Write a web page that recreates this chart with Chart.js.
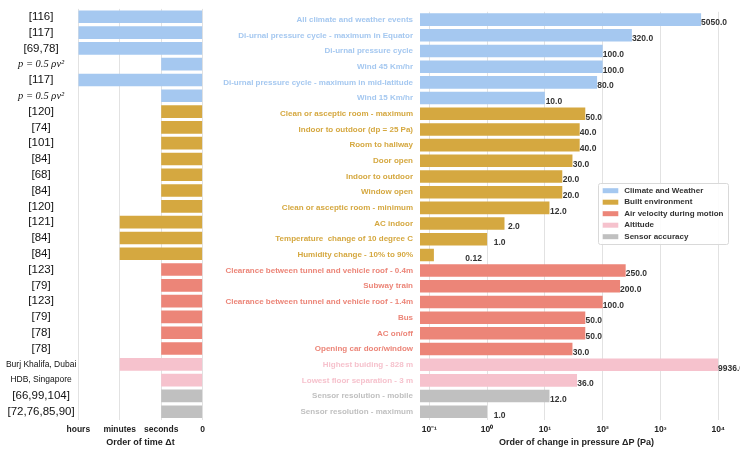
<!DOCTYPE html>
<html>
<head>
<meta charset="utf-8">
<script src="https://cdn.jsdelivr.net/npm/chart.js@4"></script>
<style>
  body { margin: 0; background: #fff; }
  canvas { position: absolute; top: 0; }
  #left { left: 0; }
  #right { left: 205px; }
</style>
</head>
<body>
<canvas id="left" width="210" height="453"></canvas>
<canvas id="right" width="535" height="453"></canvas>
<script>
const groups = ['Climate and Weather', 'Built environment', 'Air velocity during motion', 'Altitude', 'Sensor accuracy']
const groupColors = ['#a5c8f0', '#d5a840', '#ec8578', '#f6c2cd', '#c0c0c0']

const refs = ['[116]', '[117]', '[69,78]', 'p = 0.5 ρv²', '[117]', 'p = 0.5 ρv²',
  '[120]', '[74]', '[101]', '[84]', '[68]', '[84]', '[120]', '[121]', '[84]', '[84]',
  '[123]', '[79]', '[123]', '[79]', '[78]', '[78]',
  'Burj Khalifa, Dubai', 'HDB, Singapore', '[66,99,104]', '[72,76,85,90]']

const events = ['All climate and weather events', 'Di-urnal pressure cycle - maximum in Equator',
  'Di-urnal pressure cycle', 'Wind 45 Km/hr', 'Di-urnal pressure cycle - maximum in mid-latitude',
  'Wind 15 Km/hr', 'Clean or asceptic room - maximum', 'Indoor to outdoor (dp = 25 Pa)',
  'Room to hallway', 'Door open', 'Indoor to outdoor', 'Window open',
  'Clean or asceptic room - minimum', 'AC indoor', 'Temperature  change of 10 degree C',
  'Humidity change - 10% to 90%', 'Clearance between tunnel and vehicle roof - 0.4m',
  'Subway train', 'Clearance between tunnel and vehicle roof - 1.4m', 'Bus', 'AC on/off',
  'Opening car door/window', 'Highest buiding - 828 m', 'Lowest floor separation - 3 m',
  'Sensor resolution - mobile', 'Sensor resolution - maximum']

const eventGroup = [0, 0, 0, 0, 0, 0, 1, 1, 1, 1, 1, 1, 1, 1, 1, 1, 2, 2, 2, 2, 2, 2, 3, 3, 4, 4]

// 0 = instant, 1 = seconds, 2 = minutes, 3 = hours
const timeOrder = [3, 3, 3, 1, 3, 1, 1, 1, 1, 1, 1, 1, 1, 2, 2, 2, 1, 1, 1, 1, 1, 1, 2, 1, 1, 1]
const timeTicks = ['0', 'seconds', 'minutes', 'hours']

const pressure = [5050, 320, 100, 100, 80, 10, 50, 40, 40, 30, 20, 20, 12, 2, 1, 0.12,
  250, 200, 100, 50, 50, 30, 9936, 36, 12, 1]
const pressureTicks = [0.1, 1, 10, 100, 1000, 10000]
const pressureTickLabels = ['10⁻¹', '10⁰', '10¹', '10²', '10³', '10⁴']

const barColors = eventGroup.map(g => groupColors[g])
const axisH = 33.4

function refFont(ctx) {
  const label = refs[ctx.index] || ''
  if (label.startsWith('[')) return { family: 'Liberation Sans', size: 11.5 }
  if (label.startsWith('p')) return { family: 'Liberation Serif', size: 10.5, style: 'italic' }
  return { family: 'Liberation Sans', size: 8.5 }
}

// left panel: order of time
new Chart(document.getElementById('left'), {
  type: 'bar',
  data: {
    labels: refs,
    datasets: [{ data: timeOrder, backgroundColor: barColors, barPercentage: 0.8, categoryPercentage: 1 }]
  },
  options: {
    indexAxis: 'y',
    responsive: false,
    animation: false,
    layout: { padding: { top: 8.8, right: 6.7, left: 0, bottom: 0 } },
    plugins: { legend: { display: false }, tooltip: { enabled: false } },
    scales: {
      x: {
        reverse: true, min: 0, max: 3,
        grid: { color: '#e2e2e2', drawTicks: false },
        border: { display: false },
        ticks: {
          stepSize: 1, padding: 5, color: '#222',
          font: { family: 'Liberation Sans', size: 8.5, weight: 'bold' },
          callback: v => timeTicks[v]
        },
        title: {
          display: true, text: 'Order of time Δt', color: '#222',
          font: { family: 'Liberation Sans', size: 9, weight: 'bold' },
          padding: { top: 0, bottom: 5.5 }
        },
        afterFit: s => { s.height = axisH }
      },
      y: {
        grid: { display: false, drawTicks: false },
        border: { display: false },
        ticks: { crossAlign: 'center', padding: 2, z: 1, color: '#111', font: refFont, autoSkip: false },
        afterFit: s => { s.width = 78.3 }
      }
    }
  }
})

// right panel: order of change in pressure
const valueLabels = {
  id: 'valueLabels',
  afterDatasetsDraw(chart) {
    const { ctx } = chart
    const xs = chart.scales.x
    const meta = chart.getDatasetMeta(0)
    ctx.save()
    ctx.font = 'bold 8.5px "Liberation Sans"'
    ctx.fillStyle = '#333'
    ctx.textAlign = 'left'
    ctx.textBaseline = 'middle'
    meta.data.forEach((bar, i) => {
      const v = pressure[i]
      const txt = Number.isInteger(v) ? v.toFixed(1) : String(v)
      ctx.fillText(txt, xs.getPixelForValue(v + 0.3), bar.y + 3.5)
    })
    ctx.restore()
  }
}

const groupLegend = {
  id: 'groupLegend',
  afterDraw(chart) {
    const { ctx } = chart
    const x = 393, y = 183, w = 130, h = 61
    ctx.save()
    ctx.fillStyle = 'rgba(255,255,255,0.9)'
    ctx.strokeStyle = '#d9d9d9'
    ctx.lineWidth = 1
    ctx.beginPath()
    ctx.roundRect(x + 0.5, y + 0.5, w, h, 2)
    ctx.fill()
    ctx.stroke()
    ctx.font = 'bold 8px "Liberation Sans"'
    ctx.textBaseline = 'middle'
    groups.forEach((g, i) => {
      const cy = y + 7.7 + i * 11.5
      ctx.fillStyle = groupColors[i]
      ctx.fillRect(x + 4.7, cy - 2.5, 15.6, 5)
      ctx.fillStyle = '#333'
      ctx.fillText(g, x + 26.3, cy)
    })
    ctx.restore()
  }
}

new Chart(document.getElementById('right'), {
  type: 'bar',
  data: {
    labels: events,
    datasets: [{ data: pressure, backgroundColor: barColors, barPercentage: 0.8, categoryPercentage: 1 }]
  },
  options: {
    indexAxis: 'y',
    responsive: false,
    animation: false,
    layout: { padding: { top: 8.8, right: 7, left: 0, bottom: 0 } },
    plugins: { legend: { display: false }, tooltip: { enabled: false } },
    scales: {
      x: {
        type: 'logarithmic', min: 0.069, max: 18000,
        grid: { color: '#e2e2e2', drawTicks: false },
        border: { display: false },
        afterBuildTicks: s => { s.ticks = pressureTicks.map(v => ({ value: v })) },
        ticks: {
          padding: 5, color: '#222',
          font: { family: 'Liberation Sans', size: 8.5, weight: 'bold' },
          callback: (v, i) => pressureTickLabels[i]
        },
        title: {
          display: true, text: 'Order of change in pressure ΔP (Pa)', color: '#222',
          font: { family: 'Liberation Sans', size: 9, weight: 'bold' },
          padding: { top: 0, bottom: 5.5 }
        },
        afterFit: s => { s.height = axisH }
      },
      y: {
        grid: { display: false, drawTicks: false },
        border: { display: false },
        ticks: {
          padding: 7, autoSkip: false,
          color: ctx => groupColors[eventGroup[ctx.index]],
          font: { family: 'Liberation Sans', size: 8, weight: 'bold' }
        },
        afterFit: s => { s.width = 215 }
      }
    }
  },
  plugins: [valueLabels, groupLegend]
})
</script>
</body>
</html>
